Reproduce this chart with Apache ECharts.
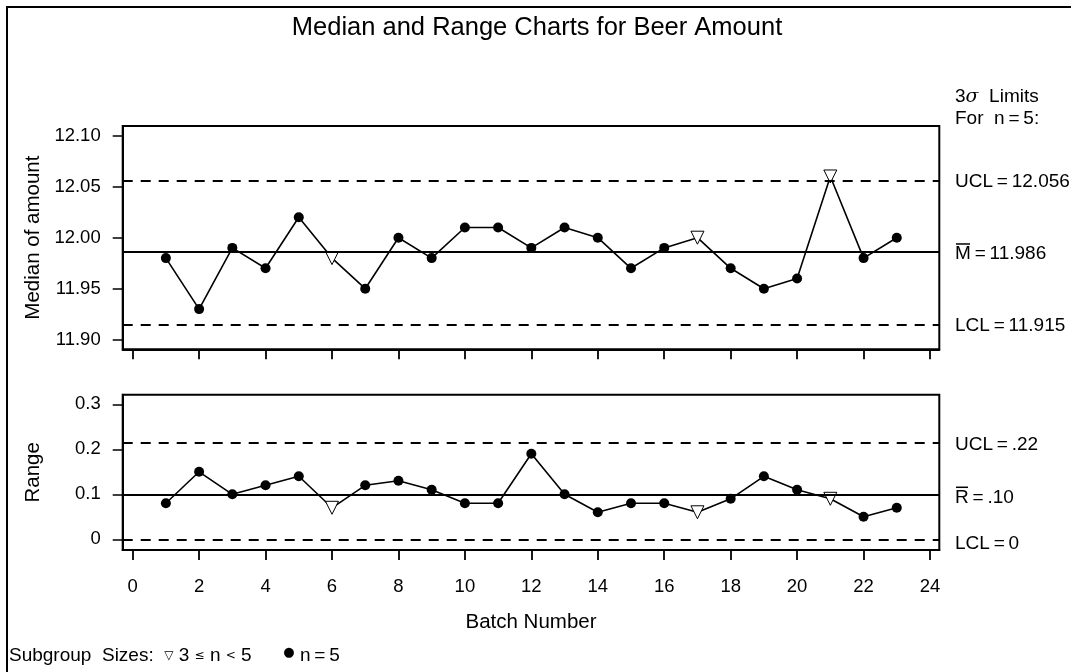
<!DOCTYPE html>
<html><head><meta charset="utf-8">
<script src="https://cdn.jsdelivr.net/npm/echarts@6/dist/echarts.min.js"></script>
<style>html,body{margin:0;padding:0;background:#fff}#c{width:1071px;height:672px}</style>
</head><body><div id="c"></div>
<script>
const batches = [1,2,3,4,5,6,7,8,9,10,11,12,13,14,15,16,17,18,19,20,21,22,23];
const medians = [11.98,11.93,11.99,11.97,12.02,11.98,11.95,12.00,11.98,12.01,12.01,11.99,12.01,12.00,11.97,11.99,12.00,11.97,11.95,11.96,12.06,11.98,12.00];
const ranges  = [0.08,0.15,0.10,0.12,0.14,0.07,0.12,0.13,0.11,0.08,0.08,0.19,0.10,0.06,0.08,0.08,0.06,0.09,0.14,0.11,0.09,0.05,0.07];
const subgroupSizes = [5,5,5,5,5,4,5,5,5,5,5,5,5,5,5,5,4,5,5,5,4,5,5];
const medianLimits = [12.056, 11.986, 11.915];   // UCL, center, LCL
const medianLimitLabels = ['UCL\u2009=\u200912.056', 'M\u2009=\u200911.986', 'LCL\u2009=\u200911.915'];
const rangeLimits = [0.215, 0.10, 0];
const rangeLimitLabels = ['UCL\u2009=\u2009.22', 'R\u2009=\u2009.10', 'LCL\u2009=\u20090'];
const xTicks = [0,2,4,6,8,10,12,14,16,18,20,22,24];
const medianTicks = [11.90,11.95,12.00,12.05,12.10];
const rangeTicks = [0,0.1,0.2,0.3];

const FONT = '"Liberation Sans", Arial, Helvetica, sans-serif';
const FS = 19;
const chart = echarts.init(document.getElementById('c'), null, {renderer:'canvas'});

function pts(vals){
  return batches.map((b,i)=>{
    const tri = subgroupSizes[i] < 5;
    return {
      value:[b, vals[i]],
      symbol: tri ? 'triangle' : 'circle',
      symbolRotate: tri ? 180 : 0,
      symbolSize: tri ? 13 : 10,
      itemStyle: tri ? {color:'#fff', borderColor:'#000', borderWidth:1} : {color:'#000', borderWidth:0}
    };
  });
}
function limitLines(lims){
  return {
    silent:true, symbol:['none','none'], label:{show:false}, animation:false, precision:6,
    data: lims.map((v,i)=>({yAxis:v, lineStyle:{color:'#000', width: 2, type: i===1?'solid':[10,8]}}))
  };
}
const axisLineStyle = {color:'#000', width:2};
const labelStyle = {color:'#000', fontSize:18.5, fontFamily:FONT};
const nameStyle = {color:'#000', fontSize:20.5, fontFamily:FONT};

chart.setOption({
  animation:false,
  backgroundColor:'#fff',
  grid:[
    {left:122.7, top:126, width:816.6, height:223.3, show:true, borderColor:'#000', borderWidth:2},
    {left:122.7, top:394.7, width:816.6, height:155.3, show:true, borderColor:'#000', borderWidth:2}
  ],
  xAxis:[
    {gridIndex:0, type:'value', min:-0.3, max:24.28,
     axisLine:{show:true, onZero:false, lineStyle:axisLineStyle},
     axisTick:{show:true, inside:false, length:10, customValues:xTicks, lineStyle:{color:'#000', width:1.8}},
     axisLabel:{show:false}, splitLine:{show:false}},
    {gridIndex:1, type:'value', min:-0.3, max:24.28,
     axisLine:{show:true, onZero:false, lineStyle:axisLineStyle},
     axisTick:{show:true, inside:false, length:10, customValues:xTicks, lineStyle:{color:'#000', width:1.8}},
     axisLabel:Object.assign({customValues:xTicks, margin:27}, labelStyle),
     splitLine:{show:false},
     name:'Batch Number', nameLocation:'middle', nameGap:62, nameTextStyle:nameStyle}
  ],
  yAxis:[
    {gridIndex:0, type:'value', min:11.8906, max:12.1095,
     axisLine:{show:true, onZero:false, lineStyle:axisLineStyle},
     axisTick:{show:true, inside:false, length:10, customValues:medianTicks, lineStyle:{color:'#000', width:1.5}},
     axisLabel:Object.assign({customValues:medianTicks, margin:22, formatter:v=>Number(v).toFixed(2)}, labelStyle),
     splitLine:{show:false},
     name:'Median of amount', nameLocation:'middle', nameGap:79, nameTextStyle:nameStyle},
    {gridIndex:1, type:'value', min:-0.0238, max:0.3213,
     axisLine:{show:true, onZero:false, lineStyle:axisLineStyle},
     axisTick:{show:true, inside:false, length:10, customValues:rangeTicks, lineStyle:{color:'#000', width:1.5}},
     axisLabel:Object.assign({customValues:rangeTicks, margin:22, formatter:v=>Number(v)===0?'0':Number(v).toFixed(1)}, labelStyle),
     splitLine:{show:false},
     name:'Range', nameLocation:'middle', nameGap:79, nameTextStyle:nameStyle}
  ],
  series:[
    {type:'line', xAxisIndex:0, yAxisIndex:0, data:pts(medians), lineStyle:{color:'#000', width:1.6},
     markLine:limitLines(medianLimits), z:3},
    {type:'line', xAxisIndex:1, yAxisIndex:1, data:pts(ranges), lineStyle:{color:'#000', width:1.6},
     markLine:limitLines(rangeLimits), z:3}
  ]
});

// Right-hand limit labels placed through the axes' own scales
const g = [];
g.push({type:'rect', shape:{x:7, y:7, width:1100, height:700}, style:{fill:'none', stroke:'#000', lineWidth:2}, silent:true, z:0});
g.push({type:'text', x:537, y:28, style:{text:'Median and Range Charts for Beer Amount', fill:'#000', font:'25.5px '+FONT, align:'center', verticalAlign:'middle'}});
g.push({type:'text', x:955, y:97, style:{text:'3{s|σ}  Limits', fill:'#000', font:FS+'px '+FONT, verticalAlign:'middle',
  rich:{s:{fontStyle:'italic', fontSize:FS, fontFamily:'"DejaVu Serif", serif', fill:'#000'}}}});
g.push({type:'text', x:955, y:119, style:{text:'For  n\u2009=\u20095:', fill:'#000', font:FS+'px '+FONT, verticalAlign:'middle'}});
const medOff = [1, 2, 1];
medianLimits.forEach((v,i)=>{
  const y = chart.convertToPixel({yAxisIndex:0}, v) + medOff[i];
  g.push({type:'text', x:955, y:y, style:{text:medianLimitLabels[i], fill:'#000', font:FS+'px '+FONT, verticalAlign:'middle'}});
  if(i===1) g.push({type:'line', shape:{x1:956, y1:y-10, x2:970, y2:y-10}, style:{stroke:'#000', lineWidth:1.5}});
});
const rngOff = [2, 3, 4];
rangeLimits.forEach((v,i)=>{
  const y = chart.convertToPixel({yAxisIndex:1}, v) + rngOff[i];
  g.push({type:'text', x:955, y:y, style:{text:rangeLimitLabels[i], fill:'#000', font:FS+'px '+FONT, verticalAlign:'middle'}});
  if(i===1) g.push({type:'line', shape:{x1:956, y1:y-10, x2:968, y2:y-10}, style:{stroke:'#000', lineWidth:1.5}});
});
// footnote legend
g.push({type:'text', x:9, y:656, style:{
  text:'Subgroup  Sizes:  {t|▽} 3 {s|≤} n {s|<} 5      {d|●} n\u2009=\u20095',
  fill:'#000', font:FS+'px '+FONT, verticalAlign:'middle',
  rich:{t:{fontSize:12, fontFamily:'"DejaVu Sans"', fill:'#000'}, s:{fontSize:12, fontFamily:'"DejaVu Sans"', fill:'#000'}, d:{fontSize:13, fontFamily:'"DejaVu Sans"', fill:'#000', verticalAlign:'middle', padding:[0,0,6,0]}}
}});
chart.setOption({graphic:g});
</script></body></html>
